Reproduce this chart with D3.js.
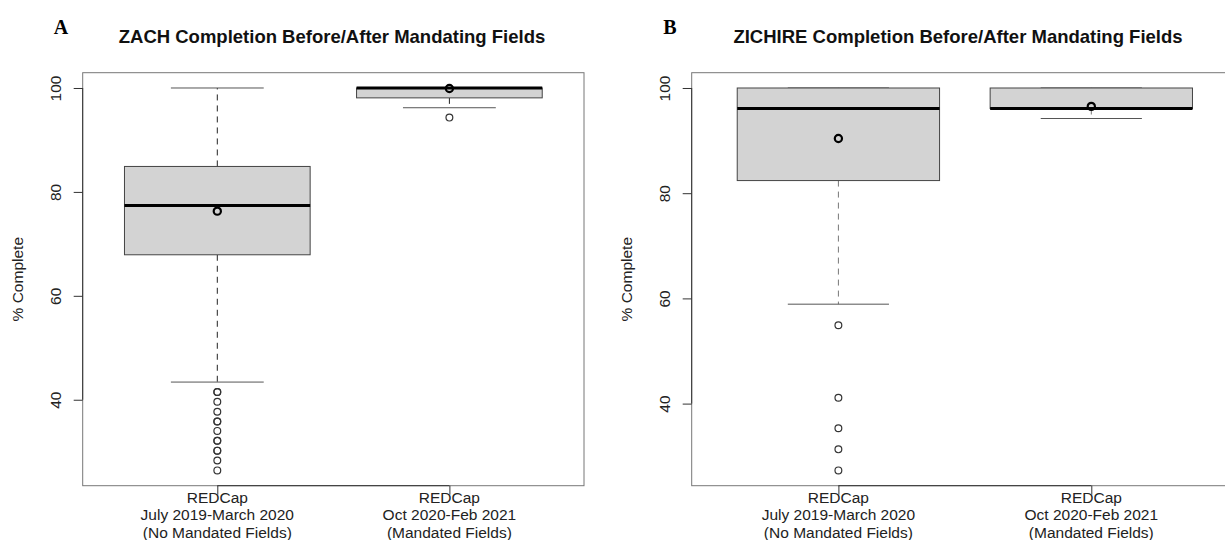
<!DOCTYPE html>
<html lang="en">
<head>
<meta charset="UTF-8" />
<title>Completion Before/After Mandating Fields</title>
<script src="https://d3js.org/d3.v7.min.js"></script>
<style>
  body { margin: 0; background: #fff; }
  svg { display: block; font-family: "Liberation Sans", Arial, Helvetica, sans-serif; }
</style>
</head>
<body>
<svg id="chart" width="1225" height="540"></svg>
<script>
// categories, shared by both panels
const groupLabels = [
  ["REDCap", "July 2019-March 2020", "(No Mandated Fields)"],
  ["REDCap", "Oct 2020-Feb 2021", "(Mandated Fields)"]
];
const yTicks = [40, 60, 80, 100];

// panel A - ZACH (box stats)
const zachLow = [43.4, 96.2];
const zachQ1 = [67.9, 98.1];
const zachMedian = [77.4, 100];
const zachQ3 = [84.9, 100];
const zachHigh = [100, 100];
const zachMean = [76.3, 99.9];
const zachOutliers = [
  [41.5, 41.5, 39.6, 37.7, 35.8, 35.8, 34.0, 32.1, 32.1, 30.2, 30.2, 28.3, 26.4],
  [94.3]
];

// panel B - ZICHIRE
const zichLow = [58.9, 94.2];
const zichQ1 = [82.4, 96.1];
const zichMedian = [96.1, 96.1];
const zichQ3 = [100, 100];
const zichHigh = [100, 100];
const zichMean = [90.4, 96.5];
const zichOutliers = [
  [54.9, 41.1, 35.3, 31.3, 27.3],
  []
];

const svg = d3.select("#chart");

const panels = [
  {
    letter: "A", letterX: 61,
    title: "ZACH Completion Before/After Mandating Fields", titleX: 332,
    left: 82.7, right: 584, top: 72.7, bottom: 485.7,
    low: zachLow, q1: zachQ1, med: zachMedian, q3: zachQ3, high: zachHigh,
    mean: zachMean, outliers: zachOutliers, whiskerColor: "#222"
  },
  {
    letter: "B", letterX: 670,
    title: "ZICHIRE Completion Before/After Mandating Fields", titleX: 958,
    left: 691.7, right: 1238, top: 72.7, bottom: 485.7,
    low: zichLow, q1: zichQ1, med: zichMedian, q3: zichQ3, high: zichHigh,
    mean: zichMean, outliers: zichOutliers, whiskerColor: "#777"
  }
];

panels.forEach(drawPanel);

function drawPanel(p) {
  const g = svg.append("g");
  const n = groupLabels.length;

  // R style limits: data range widened by 4%
  const all = p.low.concat(p.high, p.outliers.flat());
  const lo = d3.min(all), hi = d3.max(all);
  const pad = (hi - lo) * 0.04;
  const y = d3.scaleLinear().domain([lo - pad, hi + pad]).range([p.bottom, p.top]);
  const x = d3.scaleLinear().domain([0.5 - 0.08, n + 0.5 + 0.08]).range([p.left, p.right]);

  // panel letter and title
  g.append("text")
    .attr("x", p.letterX).attr("y", 34)
    .attr("text-anchor", "middle")
    .style("font-family", "'Liberation Serif', 'Times New Roman', serif")
    .style("font-weight", "bold")
    .style("font-size", "20px")
    .text(p.letter);

  g.append("text")
    .attr("x", p.titleX).attr("y", 43)
    .attr("text-anchor", "middle")
    .style("font-weight", "bold")
    .style("font-size", "18.5px")
    .attr("fill", "#111")
    .text(p.title);

  // boxes
  groupLabels.forEach((lab, i) => {
    const cx = x(i + 1);
    const half = x(i + 1 + 0.4) - cx;
    const staple = x(i + 1 + 0.2) - cx;
    const b = g.append("g");

    // whiskers
    b.append("line")
      .attr("x1", cx).attr("x2", cx)
      .attr("y1", y(p.q3[i])).attr("y2", y(p.high[i]))
      .attr("stroke", p.whiskerColor).attr("stroke-dasharray", "6,5");
    b.append("line")
      .attr("x1", cx).attr("x2", cx)
      .attr("y1", y(p.q1[i])).attr("y2", y(p.low[i]))
      .attr("stroke", p.whiskerColor).attr("stroke-dasharray", "6,5");

    // staples
    [p.high[i], p.low[i]].forEach(v => {
      b.append("line")
        .attr("x1", cx - staple).attr("x2", cx + staple)
        .attr("y1", y(v)).attr("y2", y(v))
        .attr("stroke", "#555");
    });

    b.append("rect")
      .attr("x", cx - half).attr("width", 2 * half)
      .attr("y", y(p.q3[i])).attr("height", y(p.q1[i]) - y(p.q3[i]))
      .attr("fill", "#d3d3d3").attr("stroke", "#444");

    b.append("line")
      .attr("x1", cx - half).attr("x2", cx + half)
      .attr("y1", y(p.med[i])).attr("y2", y(p.med[i]))
      .attr("stroke", "#000").attr("stroke-width", 3);

    b.selectAll(".outlier")
      .data(p.outliers[i])
      .enter()
      .append("circle")
      .attr("class", "outlier")
      .attr("cx", cx).attr("cy", d => y(d))
      .attr("r", 3.4)
      .attr("fill", "none").attr("stroke", "#333").attr("stroke-width", 1.2);

    b.append("circle")
      .attr("cx", cx).attr("cy", y(p.mean[i]))
      .attr("r", 3.6)
      .attr("fill", "none").attr("stroke", "#000").attr("stroke-width", 2.2);
  });

  // frame
  g.append("rect")
    .attr("x", p.left).attr("y", p.top)
    .attr("width", p.right - p.left).attr("height", p.bottom - p.top)
    .attr("fill", "none").attr("stroke", "#777");

  // y axis
  const ya = g.append("g")
    .attr("transform", `translate(${p.left},0)`)
    .call(d3.axisLeft(y).tickValues(yTicks).tickSize(9).tickFormat(d3.format("d")));
  ya.select(".domain").remove();
  ya.selectAll(".tick line").attr("stroke", "#333");
  ya.selectAll(".tick text")
    .attr("x", null).attr("dy", "0.35em")
    .attr("transform", "translate(-27,0) rotate(-90)")
    .attr("text-anchor", "middle")
    .attr("fill", "#222")
    .style("font-size", "15.5px")
    .style("font-family", null);
  ya.append("line")
    .attr("y1", y(d3.min(yTicks))).attr("y2", y(d3.max(yTicks)))
    .attr("stroke", "#333");

  g.append("text")
    .attr("transform", `translate(${p.left - 65},${(p.top + p.bottom) / 2}) rotate(-90)`)
    .attr("dy", "0.35em")
    .attr("text-anchor", "middle")
    .attr("fill", "#222")
    .style("font-size", "15.5px")
    .text("% Complete");

  // x axis
  const xa = g.append("g")
    .attr("transform", `translate(0,${p.bottom})`)
    .call(d3.axisBottom(x).tickValues(d3.range(1, n + 1)).tickSize(9).tickFormat(""));
  xa.select(".domain").remove();
  xa.selectAll(".tick line").attr("stroke", "#333");
  xa.append("line")
    .attr("x1", x(1)).attr("x2", x(n))
    .attr("stroke", "#333");

  groupLabels.forEach((lab, i) => {
    const t = g.append("text")
      .attr("text-anchor", "middle")
      .attr("fill", "#222")
      .style("font-size", "15.5px");
    lab.forEach((line, k) => {
      t.append("tspan")
        .attr("x", x(i + 1))
        .attr("y", p.bottom + 17 + k * 17.5)
        .text(line);
    });
  });
}
</script>
</body>
</html>
